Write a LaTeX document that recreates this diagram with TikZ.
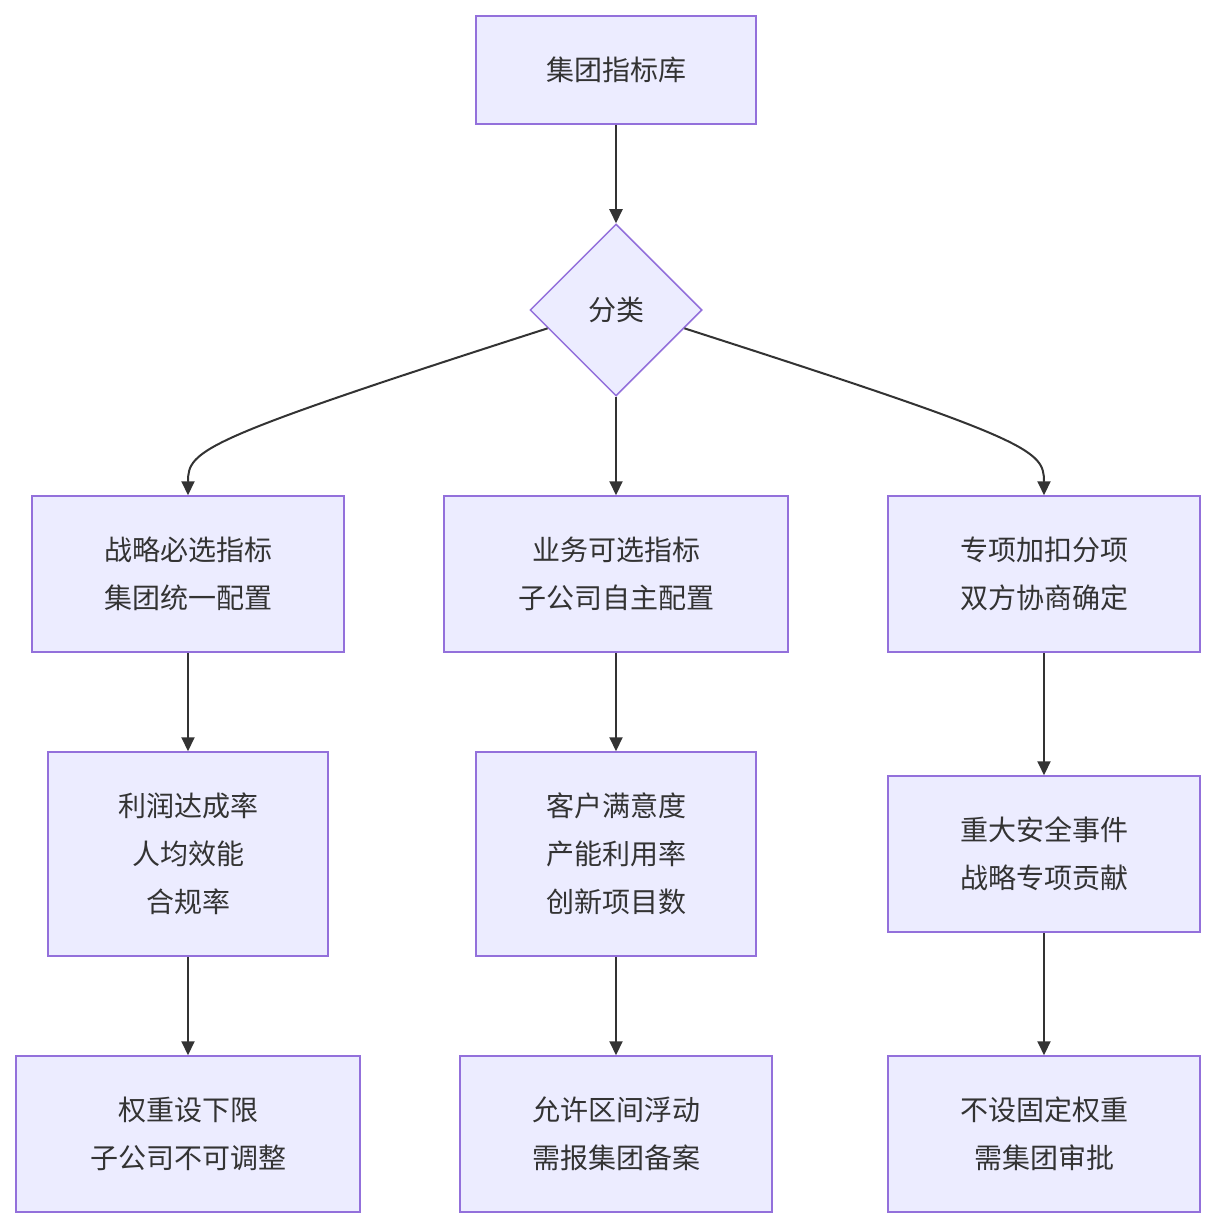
\documentclass[tikz,border=0pt]{standalone}
\usepackage{fontspec}
\setmainfont{Noto Sans CJK SC}
\usetikzlibrary{arrows.meta,shapes.geometric}
\definecolor{boxfill}{HTML}{ECECFF}
\definecolor{boxline}{HTML}{9370DB}
\definecolor{linkcol}{HTML}{333333}
\tikzset{
  box/.style={draw=boxline,fill=boxfill,line width=1.5pt,align=center,inner sep=0pt,
    font=\fontsize{28pt}{48pt}\selectfont,text=linkcol},
  link/.style={draw=linkcol,line width=2pt,-{Triangle[length=14pt,width=13pt]}}
}
\begin{document}
\begin{tikzpicture}[x=1pt,y=-1pt]
\useasboundingbox[fill=white] (0,0) rectangle (1216,1228);
% top and decision
\node[box,minimum width=280pt,minimum height=108pt] (lib) at (616,70) {集团指标库};
\node[box,diamond,minimum width=172pt,minimum height=172pt] (cls) at (616,310) {分类};
% second row
\node[box,minimum width=312pt,minimum height=156pt] (must) at (188,574) {战略必选指标\\集团统一配置};
\node[box,minimum width=344pt,minimum height=156pt] (opt) at (616,574) {业务可选指标\\子公司自主配置};
\node[box,minimum width=312pt,minimum height=156pt] (spec) at (1044,574) {专项加扣分项\\双方协商确定};
% third row
\node[box,minimum width=280pt,minimum height=204pt] (mustlist) at (188,854) {利润达成率\\人均效能\\合规率};
\node[box,minimum width=280pt,minimum height=204pt] (optlist) at (616,854) {客户满意度\\产能利用率\\创新项目数};
\node[box,minimum width=312pt,minimum height=156pt] (speclist) at (1044,854) {重大安全事件\\战略专项贡献};
% last row
\node[box,minimum width=344pt,minimum height=156pt] (mustrule) at (188,1134) {权重设下限\\子公司不可调整};
\node[box,minimum width=312pt,minimum height=156pt] (optrule) at (616,1134) {允许区间浮动\\需报集团备案};
\node[box,minimum width=312pt,minimum height=156pt] (specrule) at (1044,1134) {不设固定权重\\需集团审批};
% links
\draw[link] (lib) -- (cls);
\draw[link] (cls.195) .. controls (200,440) and (188,450) .. (must.north);
\draw[link] (cls) -- (opt);
\draw[link] (cls.-15) .. controls (1032,440) and (1044,450) .. (spec.north);
\foreach \a/\b in {must/mustlist,opt/optlist,spec/speclist,mustlist/mustrule,optlist/optrule,speclist/specrule}
  \draw[link] (\a) -- (\b);
\end{tikzpicture}
\end{document}
